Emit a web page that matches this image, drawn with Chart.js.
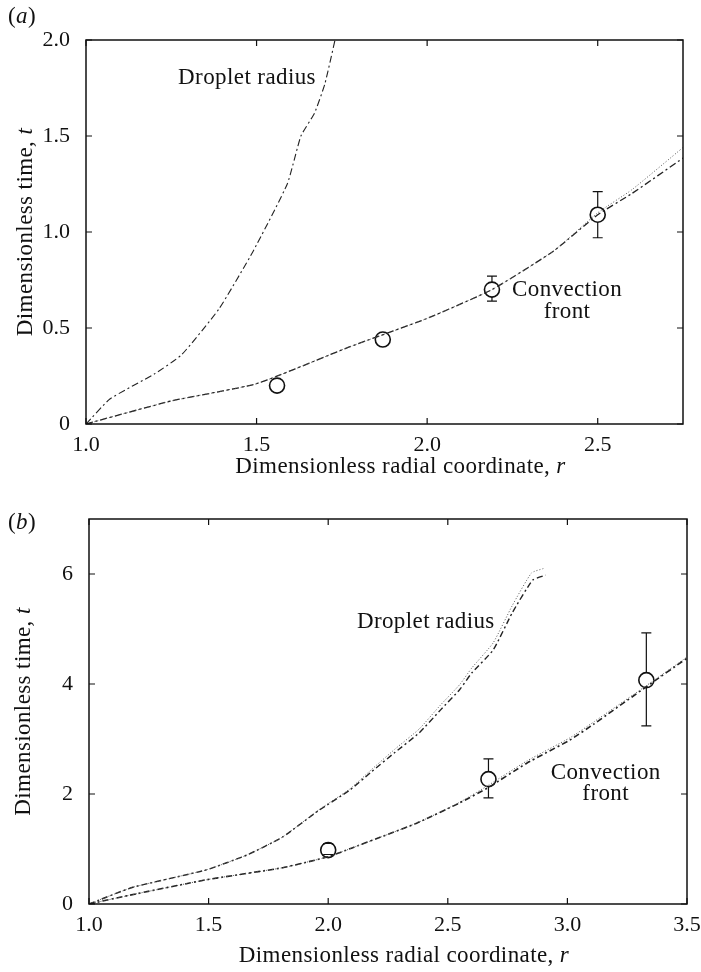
<!DOCTYPE html>
<html>
<head>
<meta charset="utf-8">
<script src="https://cdn.jsdelivr.net/npm/chart.js@4.4.1/dist/chart.umd.min.js"></script>
<style>
  body { margin: 0; background: #fff; }
  canvas { display: block; }
</style>
</head>
<body>
<canvas id="chartA" width="701" height="486"></canvas>
<canvas id="chartB" width="701" height="486"></canvas>
<script>
// Panel (a) data
const rDropA = [1.0, 1.07, 1.2, 1.28, 1.39, 1.49, 1.59, 1.63, 1.67, 1.70, 1.73];
const tDropA = [0, 0.13, 0.26, 0.36, 0.6, 0.9, 1.25, 1.5, 1.62, 1.77, 2.0];
const rFrontA = [1.0, 1.25, 1.5, 1.77, 2.0, 2.19, 2.37, 2.5, 2.6, 2.75];
const tFrontA = [0, 0.12, 0.21, 0.40, 0.55, 0.70, 0.90, 1.09, 1.20, 1.385];
const tFrontDotA = [0, 0.12, 0.21, 0.40, 0.55, 0.70, 0.90, 1.10, 1.22, 1.44];
const rPtsA = [1.56, 1.87, 2.19, 2.5];
const tPtsA = [0.20, 0.44, 0.70, 1.09];
const errLoA = [null, null, 0.64, 0.97];
const errHiA = [null, null, 0.77, 1.21];
const xTicksA = [1.0, 1.5, 2.0, 2.5];
const yTicksA = [0, 0.5, 1.0, 1.5, 2.0];

// Panel (b) data
const rDropB = [1.0, 1.18, 1.49, 1.66, 1.81, 1.96, 2.09, 2.18, 2.28, 2.38, 2.47, 2.55, 2.60, 2.69, 2.77, 2.855, 2.91];
const tDropB = [0, 0.30, 0.62, 0.89, 1.22, 1.70, 2.07, 2.40, 2.76, 3.11, 3.53, 3.90, 4.20, 4.62, 5.30, 5.89, 5.98];
const rDropDotB = [1.0, 1.18, 1.49, 1.66, 1.81, 1.96, 2.09, 2.18, 2.28, 2.38, 2.47, 2.55, 2.60, 2.69, 2.77, 2.85, 2.90];
const tDropDotB = [0, 0.30, 0.62, 0.89, 1.22, 1.71, 2.09, 2.44, 2.82, 3.18, 3.62, 3.99, 4.29, 4.75, 5.43, 6.02, 6.10];
const rFrontB = [1.0, 1.17, 1.49, 1.81, 2.0, 2.1, 2.37, 2.55, 2.67, 2.83, 3.01, 3.11, 3.33, 3.5];
const tFrontB = [0, 0.16, 0.44, 0.66, 0.86, 1.02, 1.47, 1.84, 2.12, 2.56, 2.98, 3.27, 3.95, 4.47];
const tFrontDotB = [0, 0.16, 0.44, 0.66, 0.86, 1.02, 1.47, 1.85, 2.16, 2.60, 3.02, 3.31, 3.97, 4.49];
const rPtsB = [2.0, 2.67, 3.33];
const tPtsB = [0.98, 2.27, 4.07];
const errLoB = [0.90, 1.93, 3.24];
const errHiB = [1.10, 2.64, 4.93];
const xTicksB = [1.0, 1.5, 2.0, 2.5, 3.0, 3.5];
const yTicksB = [0, 2, 4, 6];

const serif = "'Liberation Serif', 'DejaVu Serif', serif";
const textFont = "23px " + serif;
const italicFont = "italic 23px " + serif;

function pairs(xs, ys) {
  return xs.map(function (x, i) { return { x: x, y: ys[i] }; });
}

function lineSet(xs, ys, dash, color, width) {
  return {
    data: pairs(xs, ys),
    showLine: true,
    borderColor: color,
    borderWidth: width,
    borderDash: dash,
    pointRadius: 0,
    tension: 0.15,
    fill: false
  };
}

function pointSet(xs, ys) {
  return {
    data: pairs(xs, ys),
    showLine: false,
    pointRadius: 7.5,
    pointBorderWidth: 1.6,
    pointBorderColor: "#111",
    pointBackgroundColor: "rgba(0,0,0,0)"
  };
}

// draws the frame, inner ticks, error bars, labels and axis titles
const decor = {
  id: "decor",
  afterDraw: function (chart, args, opts) {
    const ctx = chart.ctx;
    const area = chart.chartArea;
    const xs = chart.scales.x;
    const ys = chart.scales.y;
    ctx.save();

    ctx.strokeStyle = "#111";
    ctx.lineWidth = 1.5;
    ctx.strokeRect(area.left, area.top, area.right - area.left, area.bottom - area.top);

    ctx.lineWidth = 1.2;
    ctx.beginPath();
    opts.xTicks.forEach(function (v) {
      const px = xs.getPixelForValue(v);
      ctx.moveTo(px, area.bottom); ctx.lineTo(px, area.bottom - 6);
      ctx.moveTo(px, area.top); ctx.lineTo(px, area.top + 6);
    });
    opts.yTicks.forEach(function (v) {
      const py = ys.getPixelForValue(v);
      ctx.moveTo(area.left, py); ctx.lineTo(area.left + 6, py);
      ctx.moveTo(area.right, py); ctx.lineTo(area.right - 6, py);
    });
    ctx.stroke();

    // error bars
    ctx.beginPath();
    opts.errX.forEach(function (r, i) {
      if (opts.errLo[i] === null) return;
      const px = xs.getPixelForValue(r);
      const pc = ys.getPixelForValue(opts.errY[i]);
      const pHi = ys.getPixelForValue(opts.errHi[i]);
      const pLo = ys.getPixelForValue(opts.errLo[i]);
      if (pHi < pc - 7.5) { ctx.moveTo(px, pHi); ctx.lineTo(px, pc - 7.5); }
      if (pLo > pc + 7.5) { ctx.moveTo(px, pc + 7.5); ctx.lineTo(px, pLo); }
      ctx.moveTo(px - 5, pHi); ctx.lineTo(px + 5, pHi);
      ctx.moveTo(px - 5, pLo); ctx.lineTo(px + 5, pLo);
    });
    ctx.stroke();

    // curve labels
    ctx.fillStyle = "#111";
    ctx.letterSpacing = "0.4px";
    ctx.font = textFont;
    ctx.textBaseline = "middle";
    opts.labels.forEach(function (lab) {
      ctx.textAlign = lab.align;
      ctx.fillText(lab.text, xs.getPixelForValue(lab.r), ys.getPixelForValue(lab.t));
    });

    // panel letter
    ctx.textAlign = "left";
    ctx.fillText("(", 8, opts.letterY);
    const w1 = ctx.measureText("(").width;
    ctx.font = italicFont;
    ctx.fillText(opts.letter, 8 + w1, opts.letterY);
    const w2 = ctx.measureText(opts.letter).width;
    ctx.font = textFont;
    ctx.fillText(")", 8 + w1 + w2, opts.letterY);

    // axis titles with italic variable
    function mixedTitle(main, v, cx, cy) {
      ctx.font = textFont;
      const a = ctx.measureText(main).width;
      ctx.font = italicFont;
      const b = ctx.measureText(v).width;
      const start = cx - (a + b) / 2;
      ctx.textAlign = "left";
      ctx.font = textFont;
      ctx.fillText(main, start, cy);
      ctx.font = italicFont;
      ctx.fillText(v, start + a, cy);
    }
    mixedTitle("Dimensionless radial coordinate, ", "r", (area.left + area.right) / 2 + 16, opts.xTitleY);
    ctx.save();
    ctx.translate(opts.yTitleX, (area.top + area.bottom) / 2);
    ctx.rotate(-Math.PI / 2);
    mixedTitle("Dimensionless time, ", "t", 0, 0);
    ctx.restore();

    ctx.restore();
  }
};

function makeChart(id, cfg) {
  const tickFont = { family: serif, size: 22 };
  return new Chart(document.getElementById(id), {
    type: "scatter",
    data: { datasets: cfg.datasets },
    options: {
      responsive: false,
      animation: false,
      layout: { padding: { top: cfg.top, right: cfg.right, left: 0, bottom: 0 } },
      plugins: {
        legend: { display: false },
        tooltip: { enabled: false },
        decor: cfg.decor
      },
      scales: {
        x: {
          type: "linear",
          min: cfg.xMin,
          max: cfg.xMax,
          grid: { display: false },
          border: { display: false },
          afterBuildTicks: function (scale) {
            scale.ticks = cfg.decor.xTicks.map(function (v) { return { value: v }; });
          },
          ticks: {
            color: "#111",
            font: tickFont,
            padding: 0,
            maxRotation: 0,
            callback: function (v) { return v.toFixed(1); }
          },
          afterFit: function (scale) {
            scale.height = cfg.xHeight;
            scale.paddingLeft = 0;
            scale.paddingRight = 0;
          }
        },
        y: {
          type: "linear",
          min: 0,
          max: cfg.yMax,
          grid: { display: false },
          border: { display: false },
          afterBuildTicks: function (scale) {
            scale.ticks = cfg.decor.yTicks.map(function (v) { return { value: v }; });
          },
          ticks: {
            color: "#111",
            font: tickFont,
            padding: 8,
            callback: cfg.yFormat
          },
          afterFit: function (scale) {
            scale.width = cfg.yWidth;
            scale.paddingTop = 0;
            scale.paddingBottom = 0;
          }
        }
      }
    },
    plugins: [decor]
  });
}

makeChart("chartA", {
  top: 40, right: 18, xHeight: 62, yWidth: 86,
  xMin: 1.0, xMax: 2.75, yMax: 2.0,
  yFormat: function (v) { return v === 0 ? "0" : v.toFixed(1); },
  datasets: [
    lineSet(rDropA, tDropA, [7, 3, 2, 3], "#222", 1.1),
    lineSet(rFrontA, tFrontDotA, [1, 2], "#555", 1),
    lineSet(rFrontA, tFrontA, [7, 3, 2, 3], "#222", 1.3),
    pointSet(rPtsA, tPtsA)
  ],
  decor: {
    xTicks: xTicksA, yTicks: yTicksA,
    errX: rPtsA, errY: tPtsA, errLo: errLoA, errHi: errHiA,
    letter: "a", letterY: 17, xTitleY: 467, yTitleX: 26,
    labels: [
      { text: "Droplet radius", r: 1.27, t: 1.80, align: "left" },
      { text: "Convection", r: 2.41, t: 0.70, align: "center" },
      { text: "front", r: 2.41, t: 0.585, align: "center" }
    ]
  }
});

makeChart("chartB", {
  top: 33, right: 14, xHeight: 68, yWidth: 89,
  xMin: 1.0, xMax: 3.5, yMax: 7,
  yFormat: function (v) { return String(v); },
  datasets: [
    lineSet(rDropDotB, tDropDotB, [1, 2], "#555", 1),
    lineSet(rDropB, tDropB, [6, 3, 2, 3], "#222", 1.4),
    lineSet(rFrontB, tFrontDotB, [1, 2], "#555", 1),
    lineSet(rFrontB, tFrontB, [6, 3, 2, 3], "#222", 1.6),
    pointSet(rPtsB, tPtsB)
  ],
  decor: {
    xTicks: xTicksB, yTicks: yTicksB,
    errX: rPtsB, errY: tPtsB, errLo: errLoB, errHi: errHiB,
    letter: "b", letterY: 37, xTitleY: 470, yTitleX: 24,
    labels: [
      { text: "Droplet radius", r: 2.12, t: 5.13, align: "left" },
      { text: "Convection", r: 3.16, t: 2.38, align: "center" },
      { text: "front", r: 3.16, t: 2.0, align: "center" }
    ]
  }
});
</script>
</body>
</html>
